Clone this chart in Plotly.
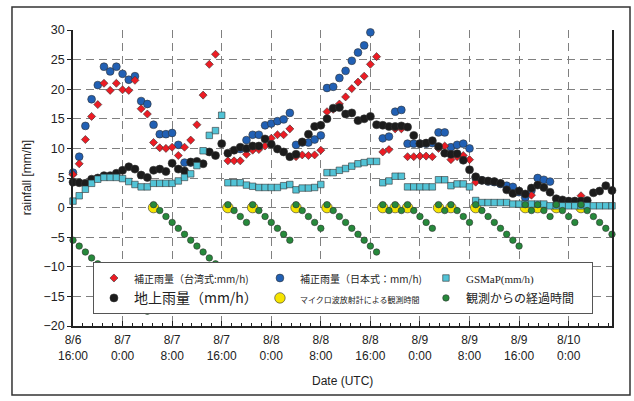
import plotly.graph_objects as go

# hours since 8/6 16:00 (UTC), hourly categories
hours = list(range(88))
tick_hours = [0, 8, 16, 24, 32, 40, 48, 56, 64, 72, 80]
tick_labels = ["8/6<br>16:00", "8/7<br>0:00", "8/7<br>8:00", "8/7<br>16:00", "8/8<br>0:00",
               "8/8<br>8:00", "8/8<br>16:00", "8/9<br>0:00", "8/9<br>8:00", "8/9<br>16:00",
               "8/10<br>0:00"]
N = None

red_tw = [5.6, 7.4, 11.5, 15.4, 17.4, 21.0, 19.8, 21.0, 19.9, 19.8, 21.5, 16.7, 15.8, 11.0, 10.1, 10.0,
          10.2, 8.8, 10.2, 11.4, 14.0, 19.0, 24.2, 25.9, N, 7.9, 7.9, 7.9, 9.0, 9.7, 9.8, 10.4,
          11.7, 12.3, 12.3, 13.3, 8.6, 8.9, 8.8, 8.9, 9.7, 16.2, 16.6, 17.5, 18.7, 20.1, 21.2, 22.2,
          24.2, 25.5, 9.4, 9.8, 13.3, 13.3, 8.6, 8.6, 8.7, 8.7, 8.6, 10.0, 10.4, 8.1, 8.6, 8.8,
          8.1, 4.3, N, N, N, N, N, N, N, N, 2.1, N, N, N, N, N, N, N, 2.0, N, N, N, N, N]
blue_jp = [5.9, 8.6, 13.8, 18.3, 20.7, 23.8, 23.0, 23.8, 22.6, 21.6, 22.2, 18.0, 17.5, 14.0, 12.4, 12.4,
           12.6, 10.6, 7.6, 7.6, N, N, N, N, N, N, N, 9.9, 11.4, 12.3, 12.3, 13.9,
           14.2, 14.6, 14.9, 16.0, 10.6, 11.0, 11.0, 11.5, 12.2, 20.2, 20.4, 21.9, 23.1, 24.8, 26.2, 27.4,
           29.6, N, 11.7, 12.0, 16.2, 16.5, 10.8, 10.8, 10.8, 10.8, 10.9, 12.7, 12.7, 10.2, 10.6, 10.8,
           10.0, 5.0, 4.6, 4.4, 4.3, 4.0, 3.7, 3.5, 2.6, 1.7, 2.9, 5.0, 4.7, 4.4, N, N,
           N, N, N, N, N, N, N, N]
gsmap = [1.1, 2.0, 3.1, 4.1, 4.8, 5.1, 5.1, 5.1, 4.9, 4.4, 3.9, 3.5, 3.5, 4.1, 4.1, 4.1,
         4.1, 4.5, 5.1, 5.7, 7.1, 9.6, 12.2, 13.0, 15.6, 4.2, 4.2, 4.2, 3.8, 3.6, 3.4, 3.4,
         3.4, 3.4, 3.7, 3.9, 3.0, 3.3, 3.3, 3.4, 3.9, 5.9, 5.9, 6.3, 6.6, 7.0, 7.4, 7.6,
         7.8, 7.8, 4.2, 4.5, 5.3, 5.3, 3.5, 3.5, 3.5, 3.5, 3.5, 4.7, 4.7, 3.7, 4.0, 4.0,
         3.5, 1.2, 0.85, 0.85, 0.85, 0.85, 0.85, 0.6, 0.6, 0.6, 0.6, 0.6, 0.6, 0.3, 0.3, 0.3,
         0.3, 0.3, 0.3, 0.3, 0.3, 0.3, 0.3, 0.3]
ground = [4.3, 4.2, 4.1, 4.8, 5.0, 5.4, 5.4, 5.8, 6.3, 6.9, 6.5, 5.5, 5.1, 6.3, 6.5, 6.1,
          7.5, 6.5, 6.2, 7.7, 7.8, 7.4, 9.4, 8.8, 10.8, 9.2, 9.7, 10.2, 10.0, 10.4, 10.4, 11.6,
          10.7, 9.9, 9.4, 8.6, 9.0, 11.1, 12.4, 13.7, 13.9, 15.0, 16.8, 16.9, 15.8, 16.0, 14.7, 15.0,
          15.4, 14.0, 13.9, 13.7, 13.7, 13.8, 13.6, 12.2, 10.8, 10.9, 11.3, 10.3, 9.2, 9.0, 9.1, 8.0,
          6.4, 5.2, 4.6, 4.5, 4.4, 4.1, 3.0, 2.4, 2.8, 2.3, 3.3, 3.8, 3.4, 2.6, 1.5, 1.3,
          1.1, 1.1, 1.1, 1.2, 2.5, 2.8, 3.7, 2.9]
obs_hours = [13, 25, 29, 36, 41, 50, 52, 54, 59, 61, 65, 73, 75, 78, 82]
obs_values = [0, 0, 0, 0, 0, 0, 0, 0, 0, 0, 0, 0, 0, 0, 0]
elapsed = [-5.5, -6.5, -7.5, -8.5, -9.5, -10.5, -11.5, -12.5, -13.5, -14.5, -15.5, -16.5, -17.5,
           0.5, -0.5, -1.5, -2.5, -3.5, -4.5, -5.5, -6.5, -7.5, -8.5, -9.5, -10.5,
           0.5, -0.5, -1.5, -2.5,
           0.5, -0.5, -1.5, -2.5, -3.5, -4.5, -5.5,
           0.5, -0.5, -1.5, -2.5, -3.5,
           0.5, -0.5, -1.5, -2.5, -3.5, -4.5, -5.5, -6.5, -7.5,
           0.5, -0.5,
           0.5, -0.5,
           0.5, -0.5, -1.5, -2.5, -3.5,
           0.5, -0.5,
           0.5, -0.5, -1.5, -2.5,
           0.5, -0.5, -1.5, -2.5, -3.5, -4.5, -5.5, -6.5,
           0.5, -0.5,
           0.5, -0.5, -1.5,
           0.5, -0.5, -1.5, -2.5,
           0.5, -0.5, -1.5, -2.5, -3.5, -4.5]

edge = dict(color="#333333", width=0.6)
fig = go.Figure()
fig.add_trace(go.Scatter(x=hours, y=blue_jp, mode="markers", legendrank=2,
                         name="<span style='font-size:10px'>補正雨量（日本式：mm/h)</span>",
                         marker=dict(symbol="circle", size=7.8, color="#2160b4", line=edge)))
fig.add_trace(go.Scatter(x=hours, y=red_tw, mode="markers", legendrank=1,
                         name="<span style='font-size:10px'>補正雨量（台湾式:mm/h)</span>",
                         marker=dict(symbol="diamond", size=6.2, color="#ec1c24", line=edge)))
fig.add_trace(go.Scatter(x=hours, y=ground, mode="markers", legendrank=4,
                         name="<span style='font-size:14px'>地上雨量（mm/h）</span>",
                         marker=dict(symbol="circle", size=8, color="#1c1c1c", line=edge)))
fig.add_trace(go.Scatter(x=obs_hours, y=obs_values, mode="markers", legendrank=5,
                         name="<span style='font-size:8px'>マイクロ波放射計による観測時間</span>",
                         marker=dict(symbol="circle", size=10.5, color="#f6e400", line=edge)))
fig.add_trace(go.Scatter(x=hours, y=gsmap, mode="markers", legendrank=3,
                         name="<span style='font-family:Liberation Serif;font-size:11px'>GSMaP(mm/h)</span>",
                         marker=dict(symbol="square", size=6.5, color="#52c3d6", line=edge)))
fig.add_trace(go.Scatter(x=hours, y=elapsed, mode="markers", legendrank=6,
                         name="<span style='font-size:12px'>観測からの経過時間</span>",
                         marker=dict(symbol="circle", size=6.5, color="#26893b", line=edge)))
for tr in fig.data:
    tr.cliponaxis = False

grid = "#808080"
fig.update_layout(
    width=634, height=401,
    margin=dict(l=73, r=22, t=30, b=75),
    paper_bgcolor="white", plot_bgcolor="white",
    font=dict(family="Liberation Sans, Noto Sans CJK JP", size=12, color="#222"),
    xaxis=dict(range=[0, 87], tickmode="array", tickvals=tick_hours, ticktext=tick_labels,
               ticks="inside", ticklen=5, tickcolor="#222", tickwidth=1,
               showline=True, linecolor="#222", linewidth=1.5,
               showgrid=True, gridcolor=grid, griddash="8px,5px", gridwidth=1,
               zeroline=False, tickfont=dict(size=12), ticklabelstandoff=2,
               minor=dict(dtick=1.6, tick0=0, ticks="inside", ticklen=3, tickcolor="#222",
                          showgrid=False)),
    yaxis=dict(range=[-20, 30], tick0=0, dtick=5, ticks="outside", ticklen=4, tickcolor="#222",
               showline=True, linecolor="#222", linewidth=1.5, mirror=True,
               showgrid=True, gridcolor=grid, griddash="8px,5px", gridwidth=1,
               zeroline=False, tickfont=dict(size=12.5)),
    legend=dict(orientation="h", x=0.037, xanchor="left", y=0.216, yanchor="top",
                bgcolor="white", bordercolor="#555", borderwidth=1,
                entrywidth=121, entrywidthmode="pixels", itemsizing="trace",
                font=dict(family="Noto Sans CJK JP", size=13, color="#222")),
    showlegend=True,
    annotations=[
        dict(text="rainfall [mm/h]", xref="paper", yref="paper", x=-0.085, y=0.5,
             xanchor="center", yanchor="middle",
             textangle=-90, showarrow=False, font=dict(size=12)),
        dict(text="Date (UTC)", xref="paper", yref="paper", x=0.5, y=-0.186,
             xanchor="center", yanchor="middle",
             showarrow=False, font=dict(size=12)),
    ],
    shapes=[dict(type="rect", xref="paper", yref="paper", x0=-0.1132, x1=1.0334,
                 y0=-0.233, y1=1.0777, line=dict(color="#333", width=1.5))],
)
fig.write_html("out.html", config={"displayModeBar": False},
               post_script="document.body.style.margin='0';document.body.style.padding='0';")
